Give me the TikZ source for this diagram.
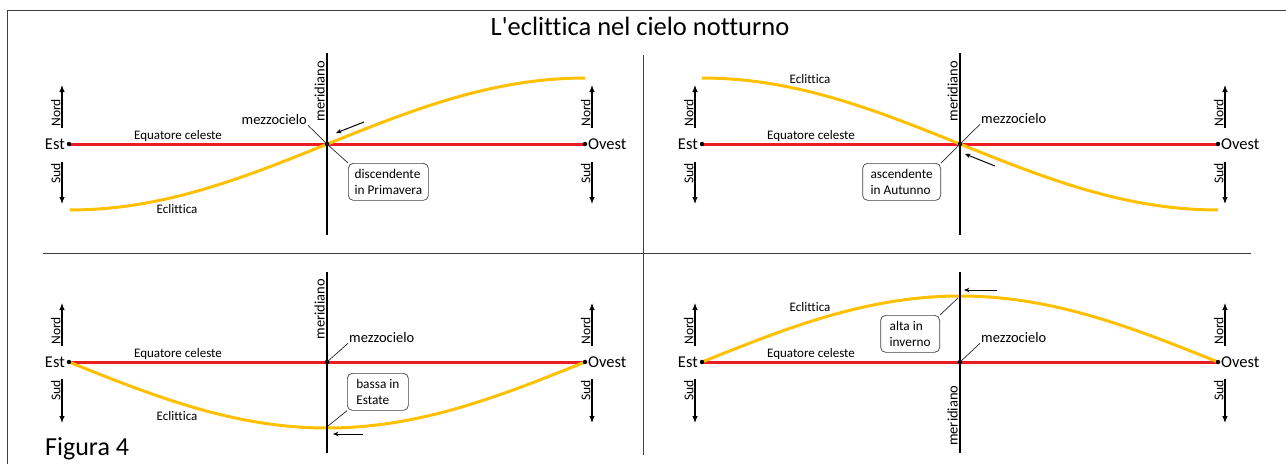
\documentclass[tikz,border=0pt]{standalone}
\usepackage{fontspec}
\setmainfont{Carlito}[Ligatures={NoCommon}]
\usetikzlibrary{arrows.meta, positioning}
\definecolor{eclipticgold}{RGB}{255, 192, 0}
\definecolor{equatorred}{RGB}{236, 28, 36}
\definecolor{rulegray}{RGB}{64, 64, 64}
\tikzset{
  >=Stealth,
  dirarrow/.style={-{Latex[length=7pt, width=5.5pt]}, line width=1.1pt, black},
  markarrow/.style={-{Stealth[length=5.5pt, width=4.5pt]}, line width=1pt, black},
  leaderline/.style={line width=0.7pt, black!85}
}

\begin{document}
\begin{tikzpicture}[
    x=1pt, y=-1pt,
    dot/.style={circle, fill=black, inner sep=0pt, minimum size=4.5pt},
    equator/.style={line width=3pt, equatorred},
    ecliptic/.style={line width=3pt, eclipticgold},
    meridian/.style={line width=1.4pt, black},
    divider/.style={line width=0.9pt, rulegray},
    cardinal/.style={font=\fontsize{16.5}{18}\selectfont, inner sep=1pt},
    skylabel/.style={font=\fontsize{13}{15}\selectfont, inner sep=0pt},
    dirlabel/.style={font=\fontsize{13.5}{15}\selectfont, rotate=90, inner sep=1pt},
    midlabel/.style={font=\fontsize{14.5}{16}\selectfont, inner sep=1pt},
    callout/.style={rectangle, draw=rulegray, rounded corners=5pt, align=left, font=\fontsize{13.3}{16}\selectfont, inner sep=3pt, line width=0.7pt, minimum height=37pt}
]
    \useasboundingbox (0,0) rectangle (1286,464);

    % Frame and panel dividers
    \draw[divider] (7,464) -- (7,10) -- (1286,10);
    \draw[divider] (643,55) -- (643,455);
    \draw[divider] (43,253) -- (1251,253);

    \node[font=\fontsize{26.5}{30}\selectfont, anchor=base, inner sep=0pt] (title) at (640,35) {L\textquotesingle eclittica nel cielo notturno};
    \node[font=\fontsize{26}{30}\selectfont, anchor=base west, inner sep=0pt] (figlabel) at (45,455) {Figura 4};

    % Top left: discendente in Primavera
    \coordinate (est1) at (69,144);
    \coordinate (ovest1) at (585,144);
    \coordinate (cross1) at (327,144);
    \draw[equator] (est1) -- (ovest1);
    \draw[ecliptic] plot[domain=0:180, samples=60] ({70+\x/180*515}, {144+66*cos(\x)});
    \draw[meridian] (327,53) -- (327,235);
    \node[dot] at (est1) {};
    \node[dot] at (ovest1) {};
    \node[dot] at (cross1) {};
    \node[cardinal, left=3pt of est1] (estlabel1) {Est};
    \node[cardinal, right=2pt of ovest1] (ovestlabel1) {Ovest};
    \draw[dirarrow] (62,128) node[dirlabel, anchor=south west] {Nord} -- (62,85);
    \draw[dirarrow] (62,162) node[dirlabel, anchor=south east] {Sud} -- (62,204);
    \draw[dirarrow] (592,128) node[dirlabel, anchor=south west] {Nord} -- (592,85);
    \draw[dirarrow] (592,162) node[dirlabel, anchor=south east] {Sud} -- (592,204);
    \node[skylabel, anchor=base] (eqlabel1) at (178,139) {Equatore celeste};
    \node[skylabel, anchor=base] (ecllabel1) at (177,213) {Eclittica};
    \node[midlabel, rotate=90, anchor=south east] (merlabel1) at (326,60) {meridiano};
    \node[midlabel, anchor=base east] (mz1) at (308,124) {mezzocielo};
    \node[callout, minimum width=80pt, anchor=north west] (box1) at (348,163) {discendente\\in Primavera};
    \draw[leaderline] (mz1.south east) -- (cross1) -- (box1.north west);
    \coordinate (tail1) at (364,122);
    \coordinate (tip1) at (336,133);
    \draw[markarrow] (tail1) -- (tip1);

    % Top right: ascendente in Autunno
    \coordinate (est2) at (702,144);
    \coordinate (ovest2) at (1218,144);
    \coordinate (cross2) at (960,144);
    \draw[equator] (est2) -- (ovest2);
    \draw[ecliptic] plot[domain=0:180, samples=60] ({702+\x/180*516}, {144-66*cos(\x)});
    \draw[meridian] (960,53) -- (960,235);
    \node[dot] at (est2) {};
    \node[dot] at (ovest2) {};
    \node[dot] at (cross2) {};
    \node[cardinal, left=3pt of est2] (estlabel2) {Est};
    \node[cardinal, right=2pt of ovest2] (ovestlabel2) {Ovest};
    \draw[dirarrow] (695,128) node[dirlabel, anchor=south west] {Nord} -- (695,85);
    \draw[dirarrow] (695,162) node[dirlabel, anchor=south east] {Sud} -- (695,204);
    \draw[dirarrow] (1225,128) node[dirlabel, anchor=south west] {Nord} -- (1225,85);
    \draw[dirarrow] (1225,162) node[dirlabel, anchor=south east] {Sud} -- (1225,204);
    \node[skylabel, anchor=base] (eqlabel2) at (811,139) {Equatore celeste};
    \node[skylabel, anchor=base] (ecllabel2) at (810,83) {Eclittica};
    \node[midlabel, rotate=90, anchor=south east] (merlabel2) at (959,60) {meridiano};
    \node[midlabel, anchor=base west] (mz2) at (980,123) {mezzocielo};
    \node[callout, minimum width=78pt, anchor=north east] (box2) at (941,163) {ascendente\\in Autunno};
    \draw[leaderline] (mz2.south west) -- (cross2) -- (box2.north east);
    \coordinate (tail2) at (995,166);
    \coordinate (tip2) at (965,154);
    \draw[markarrow] (tail2) -- (tip2);

    % Bottom left: bassa in Estate
    \coordinate (est3) at (69,362);
    \coordinate (ovest3) at (585,362);
    \coordinate (cross3) at (327,362);
    \coordinate (low3) at (328,426);
    \draw[equator] (est3) -- (ovest3);
    \draw[ecliptic] plot[domain=0:180, samples=60] ({69+\x/180*516}, {362+66*sin(\x)});
    \draw[meridian] (327,272) -- (327,453);
    \node[dot] at (est3) {};
    \node[dot] at (ovest3) {};
    \node[dot] at (cross3) {};
    \node[cardinal, left=3pt of est3] (estlabel3) {Est};
    \node[cardinal, right=2pt of ovest3] (ovestlabel3) {Ovest};
    \draw[dirarrow] (62,346) node[dirlabel, anchor=south west] {Nord} -- (62,303);
    \draw[dirarrow] (62,379) node[dirlabel, anchor=south east] {Sud} -- (62,423);
    \draw[dirarrow] (592,346) node[dirlabel, anchor=south west] {Nord} -- (592,303);
    \draw[dirarrow] (592,379) node[dirlabel, anchor=south east] {Sud} -- (592,423);
    \node[skylabel, anchor=base] (eqlabel3) at (178,357) {Equatore celeste};
    \node[skylabel, anchor=base] (ecllabel3) at (177,420) {Eclittica};
    \node[midlabel, rotate=90, anchor=south east] (merlabel3) at (326,278) {meridiano};
    \node[midlabel, anchor=base west] (mz3) at (348,342) {mezzocielo};
    \node[callout, minimum width=61pt, anchor=north west] (box3) at (347,373) {bassa in\\Estate};
    \draw[leaderline] (cross3) -- (mz3.south west);
    \draw[leaderline] (box3.south west) -- (low3);
    \coordinate (tail3) at (363,434);
    \coordinate (tip3) at (333,434);
    \draw[markarrow] (tail3) -- (tip3);

    % Bottom right: alta in inverno
    \coordinate (est4) at (702,362);
    \coordinate (ovest4) at (1218,362);
    \coordinate (cross4) at (960,362);
    \coordinate (high4) at (958,298);
    \draw[equator] (est4) -- (ovest4);
    \draw[ecliptic] plot[domain=0:180, samples=60] ({702+\x/180*516}, {362-66*sin(\x)});
    \draw[meridian] (960,272) -- (960,453);
    \node[dot] at (est4) {};
    \node[dot] at (ovest4) {};
    \node[dot] at (cross4) {};
    \node[cardinal, left=3pt of est4] (estlabel4) {Est};
    \node[cardinal, right=2pt of ovest4] (ovestlabel4) {Ovest};
    \draw[dirarrow] (695,346) node[dirlabel, anchor=south west] {Nord} -- (695,303);
    \draw[dirarrow] (695,379) node[dirlabel, anchor=south east] {Sud} -- (695,423);
    \draw[dirarrow] (1225,346) node[dirlabel, anchor=south west] {Nord} -- (1225,303);
    \draw[dirarrow] (1225,379) node[dirlabel, anchor=south east] {Sud} -- (1225,423);
    \node[skylabel, anchor=base] (eqlabel4) at (811,357) {Equatore celeste};
    \node[skylabel, anchor=base] (ecllabel4) at (810,311) {Eclittica};
    \node[midlabel, rotate=90, anchor=south west] (merlabel4) at (959,447) {meridiano};
    \node[midlabel, anchor=base west] (mz4) at (980,342) {mezzocielo};
    \node[callout, minimum width=59pt, anchor=north east] (box4) at (940,315) {alta in\\inverno};
    \draw[leaderline] (cross4) -- (mz4.south west);
    \draw[leaderline] (box4.north east) -- (high4);
    \coordinate (tail4) at (997,290);
    \coordinate (tip4) at (964,290);
    \draw[markarrow] (tail4) -- (tip4);
\end{tikzpicture}
\end{document}
